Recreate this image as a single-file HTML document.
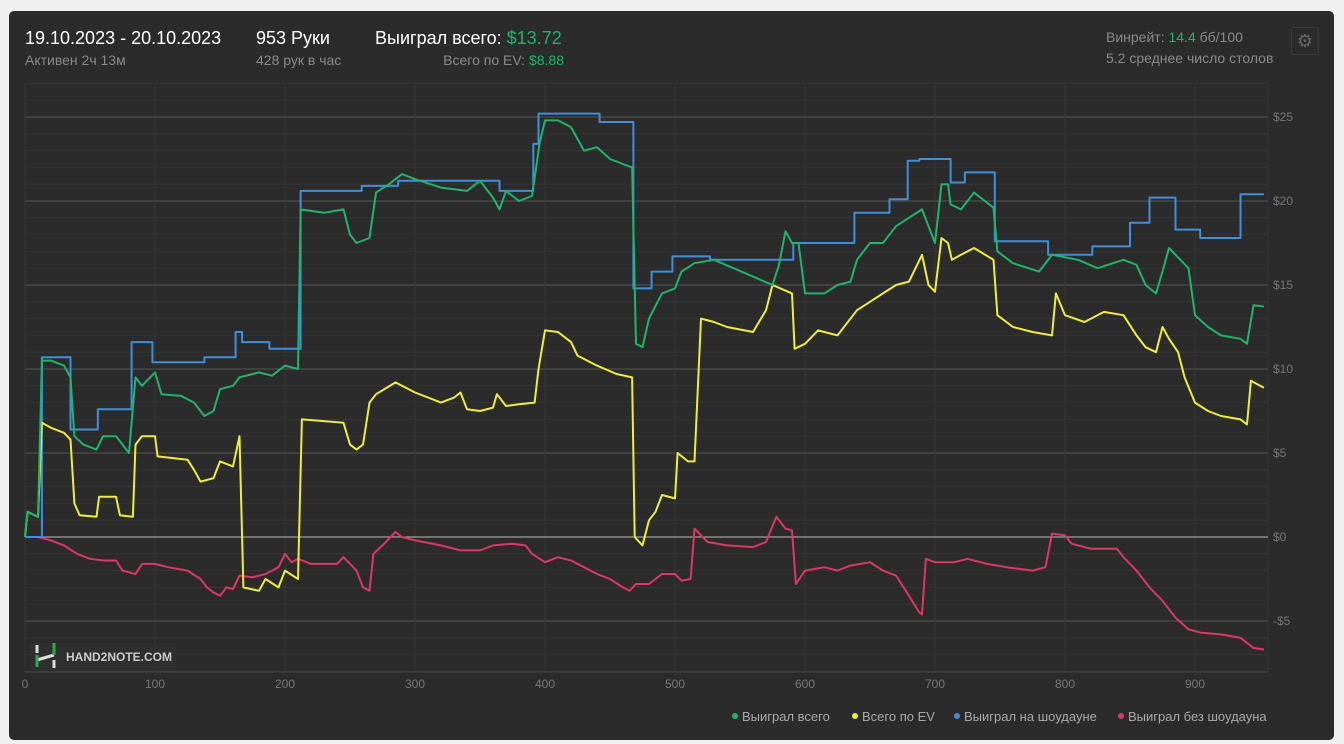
<!DOCTYPE html>
<html><head><meta charset="utf-8"><style>
body{margin:0;background:#f0f0f0;width:1344px;height:744px;overflow:hidden;font-family:"Liberation Sans","Noto Sans CJK SC",sans-serif}
#panel{position:absolute;left:9px;top:11px;width:1325px;height:729px;background:#2b2b2b;border-radius:5px}
.t{position:absolute;color:#fff;font-size:18px;white-space:nowrap}
.s{position:absolute;color:#8a8a8a;font-size:14px;white-space:nowrap}
.g{color:#1fb56a}
</style></head><body>
<div id="panel"></div>
<div class="t" style="left:25px;top:28px">19.10.2023 - 20.10.2023</div>
<div class="s" style="left:25px;top:52px">Активен 2ч 13м</div>
<div class="t" style="left:256px;top:28px">953 Руки</div>
<div class="s" style="left:256px;top:52px">428 рук в час</div>
<div class="t" style="left:375px;top:28px">Выиграл всего: <span class="g">$13.72</span></div>
<div class="s" style="right:780px;top:52px">Всего по EV: <span class="g">$8.88</span></div>
<div class="s" style="left:1106px;top:29px">Винрейт: <span class="g">14.4</span> бб/100</div>
<div class="s" style="left:1106px;top:50px">5.2 среднее число столов</div>
<div style="position:absolute;left:1291px;top:27px;width:26px;height:26px;border:1px solid #3c3c3c;border-radius:3px;color:#666;font-size:18px;text-align:center;line-height:26px">⚙</div>
<svg id="chart" width="1344" height="744" style="position:absolute;left:0;top:0"></svg>
<script>
const xTicks=[0,100,200,300,400,500,600,700,800,900];
const yTicks=[25,20,15,10,5,0,-5];
const yTickLabels=["$25","$20","$15","$10","$5","$0","-$5"];
const seriesNames=["Выиграл всего","Всего по EV","Выиграл на шоудауне","Выиграл без шоудауна"];
const seriesColors=["#1fb56a","#eeee3a","#3d8fe0","#e0356a"];
const blue=[[0,0],[13,0],[13,10.7],[35,10.7],[35,6.4],[56,6.4],[56,7.6],[82,7.6],[82,11.6],[98,11.6],[98,10.4],[138,10.4],[138,10.7],[162,10.7],[162,12.2],[167,12.2],[167,11.6],[188,11.6],[188,11.2],[212,11.2],[212,20.6],[259,20.6],[259,20.9],[287,20.9],[287,21.2],[365,21.2],[365,20.6],[391,20.6],[391,23.4],[395,23.4],[395,25.2],[442,25.2],[442,24.7],[468,24.7],[468,14.8],[482,14.8],[482,15.8],[498,15.8],[498,16.7],[527,16.7],[527,16.5],[591,16.5],[591,17.5],[638,17.5],[638,19.3],[665,19.3],[665,20.1],[679,20.1],[679,22.4],[688,22.4],[688,22.5],[712,22.5],[712,21.1],[723,21.1],[723,21.7],[746,21.7],[746,17.6],[787,17.6],[787,16.8],[821,16.8],[821,17.3],[850,17.3],[850,18.7],[865,18.7],[865,20.2],[885,20.2],[885,18.3],[904,18.3],[904,17.8],[935,17.8],[935,20.4],[953,20.4]];
const green=[[0,0],[2,1.5],[10,1.2],[13,10.5],[20,10.5],[30,10.2],[35,9.5],[38,6.0],[45,5.5],[55,5.2],[60,6.0],[70,6.0],[80,5.0],[85,9.5],[90,9.0],[100,9.8],[105,8.5],[120,8.4],[130,8.0],[138,7.2],[145,7.5],[150,8.8],[160,9.0],[165,9.5],[180,9.8],[190,9.6],[200,10.2],[210,10.0],[212,19.5],[230,19.3],[245,19.5],[250,18.0],[255,17.5],[265,17.8],[270,20.5],[280,21.0],[290,21.6],[300,21.3],[320,20.8],[340,20.6],[350,21.2],[360,20.2],[365,19.5],[370,20.6],[380,20.0],[390,20.3],[396,23.5],[400,24.8],[410,24.8],[420,24.4],[430,23.0],[440,23.2],[450,22.5],[460,22.2],[467,22.0],[470,11.5],[475,11.3],[480,13.0],[490,14.5],[500,14.8],[505,15.8],[515,16.3],[530,16.5],[560,15.5],[575,15.0],[580,16.2],[585,18.2],[590,17.5],[595,17.5],[600,14.5],[615,14.5],[625,15.0],[635,15.2],[640,16.5],[650,17.5],[660,17.5],[670,18.5],[680,19.0],[690,19.5],[695,18.5],[700,17.5],[705,21.0],[710,21.0],[712,19.8],[720,19.5],[730,20.5],[745,19.6],[748,17.0],[760,16.3],[780,15.8],[790,16.8],[810,16.5],[825,16.0],[845,16.5],[855,16.2],[862,15.0],[870,14.5],[875,15.8],[880,17.2],[895,16.0],[900,13.2],[910,12.5],[920,12.0],[935,11.8],[940,11.5],[945,13.8],[953,13.72]];
const yellow=[[0,0],[2,1.5],[10,1.2],[13,6.8],[20,6.5],[30,6.2],[35,5.8],[38,2.0],[42,1.3],[55,1.2],[57,2.4],[70,2.4],[73,1.3],[83,1.2],[85,5.5],[90,6.0],[100,6.0],[102,4.8],[125,4.6],[130,4.0],[135,3.3],[145,3.5],[150,4.5],[160,4.2],[165,6.0],[168,-3.0],[180,-3.2],[185,-2.5],[195,-3.0],[200,-2.0],[210,-2.5],[213,7.0],[230,6.9],[245,6.8],[250,5.5],[255,5.2],[260,5.5],[265,8.0],[270,8.5],[285,9.2],[300,8.6],[320,8.0],[330,8.3],[335,8.6],[340,7.6],[350,7.5],[360,7.7],[363,8.5],[370,7.8],[380,7.9],[392,8.0],[395,10.0],[400,12.3],[410,12.2],[420,11.6],[425,10.8],[440,10.2],[455,9.7],[467,9.5],[469,0],[475,-0.5],[480,1.0],[485,1.5],[490,2.5],[500,2.3],[502,5.0],[510,4.5],[515,4.5],[520,13.0],[530,12.8],[540,12.5],[560,12.2],[570,13.5],[575,15.0],[590,14.5],[592,11.2],[600,11.5],[610,12.3],[625,12.0],[640,13.5],[650,14.0],[660,14.5],[670,15.0],[680,15.2],[690,16.8],[695,15.0],[700,14.6],[705,17.8],[710,17.5],[713,16.5],[720,16.8],[730,17.2],[745,16.5],[748,13.2],[760,12.5],[775,12.2],[790,12.0],[793,14.5],[800,13.2],[815,12.8],[830,13.4],[845,13.2],[855,12.0],[862,11.3],[870,11.0],[875,12.5],[880,11.8],[887,11.0],[892,9.5],[900,8.0],[910,7.5],[920,7.2],[935,7.0],[940,6.7],[943,9.3],[953,8.88]];
const red=[[0,0],[10,0],[20,-0.2],[30,-0.5],[40,-1.0],[50,-1.3],[60,-1.4],[70,-1.4],[75,-2.0],[85,-2.2],[90,-1.6],[100,-1.6],[110,-1.8],[125,-2.0],[135,-2.5],[140,-3.0],[145,-3.3],[150,-3.5],[155,-3.0],[160,-3.1],[165,-2.3],[175,-2.4],[185,-2.2],[195,-1.8],[200,-1.0],[205,-1.5],[210,-1.3],[220,-1.6],[240,-1.6],[245,-1.2],[255,-2.0],[260,-3.0],[265,-3.2],[268,-1.0],[275,-0.5],[285,0.3],[290,0.0],[300,-0.2],[320,-0.5],[335,-0.8],[350,-0.8],[360,-0.5],[375,-0.4],[385,-0.5],[390,-1.0],[400,-1.5],[410,-1.2],[420,-1.4],[430,-1.8],[440,-2.2],[450,-2.5],[460,-3.0],[465,-3.2],[470,-2.8],[480,-2.8],[490,-2.2],[500,-2.2],[505,-2.6],[512,-2.5],[515,0.5],[525,-0.3],[540,-0.5],[560,-0.6],[570,-0.3],[578,1.2],[585,0.5],[590,0.4],[593,-2.8],[600,-2.0],[615,-1.8],[625,-2.0],[635,-1.7],[650,-1.5],[660,-2.0],[670,-2.3],[680,-3.5],[688,-4.5],[690,-4.6],[693,-1.3],[700,-1.5],[715,-1.5],[725,-1.3],[740,-1.6],[755,-1.8],[765,-1.9],[775,-2.0],[785,-1.8],[790,0.2],[800,0.1],[805,-0.4],[820,-0.7],[840,-0.7],[845,-1.2],[855,-2.0],[865,-3.0],[875,-3.8],[885,-4.8],[895,-5.5],[905,-5.7],[920,-5.8],[935,-6.0],[945,-6.6],[953,-6.7]];

const svg=document.getElementById('chart');
const NS='http://www.w3.org/2000/svg';
const L=25,R=1268,T=83,B=672;
const X=h=>L+h*1.3;
const Y=v=>537-v*16.8;
function mk(tag,attrs,text){const e=document.createElementNS(NS,tag);for(const k in attrs)e.setAttribute(k,attrs[k]);if(text!==undefined)e.textContent=text;svg.appendChild(e);return e;}
for(let v=-8;v<=27;v++){const y=Y(v);if(y<T-1||y>B)continue;
 const g=mk('line',{x1:L,x2:R,y1:y,y2:y,stroke:v%5===0?'#555':'#363636','stroke-width':1});
 
 }
mk('line',{x1:L,x2:R,y1:T,y2:T,stroke:'#363636'});
xTicks.forEach(t=>{const x=X(t);
 const g=mk('line',{x1:x,x2:x,y1:T,y2:B,stroke:'#363636'});
 
 
 const tx=mk('text',{x:x,y:688,fill:'#777','font-size':12,'text-anchor':'middle','font-family':'Liberation Sans'},String(t));
 
 });
mk('line',{x1:R,x2:R,y1:T,y2:B,stroke:'#363636'});
mk('line',{x1:L,x2:R,y1:Y(0),y2:Y(0),stroke:'#bbb','stroke-width':1});
mk('line',{x1:L,x2:R,y1:B,y2:B,stroke:'#444'});
yTicks.forEach((v,i)=>{const tx=mk('text',{x:1273,y:Y(v)+4,fill:'#777','font-size':12,'font-family':'Liberation Sans'},yTickLabels[i]);
 
 });
const wm=mk('rect',{x:30,y:643,width:146,height:27,fill:'#2f2f2f'});


mk('path',{d:'M37 645v8 M54 660v8 M37 660l17-5',stroke:'#ddd','stroke-width':3,fill:'none'});
mk('path',{d:'M37 655v12 M54 643v12',stroke:'#2ea84a','stroke-width':3,fill:'none'});
mk('text',{x:66,y:661,fill:'#ccc','font-size':12,'font-weight':'bold','font-family':'Liberation Sans'},'HAND2NOTE.COM');
function line(data,color,name){const d=data.map((p,i)=>(i?'L':'M')+X(p[0]).toFixed(1)+' '+Y(p[1]).toFixed(1)).join(' ');
 const e=mk('path',{d:d,stroke:color,'stroke-width':2,fill:'none','stroke-linejoin':'round'});
 
 }
line(red,seriesColors[3],'series-no-showdown');
line(blue,seriesColors[2],'series-showdown');
line(yellow,seriesColors[1],'series-ev');
line(green,seriesColors[0],'series-total');
const lx=[735,855,957,1121];
seriesNames.forEach((n,i)=>{
 const c=mk('circle',{cx:lx[i],cy:716,r:3,fill:seriesColors[i]});
 
 
 const t=mk('text',{x:lx[i]+7,y:721,fill:'#aaa','font-size':13,'font-family':'Liberation Sans'},n);
 
 });
</script>
</body></html>
